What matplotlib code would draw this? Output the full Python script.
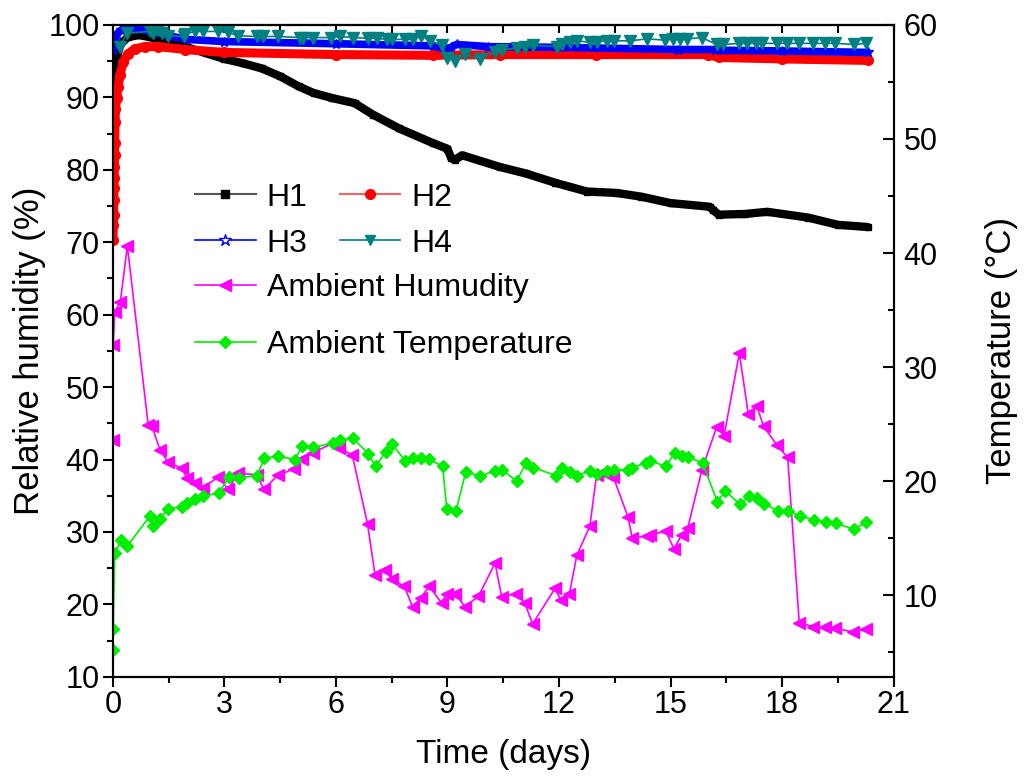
import matplotlib
matplotlib.use('Agg')
import matplotlib.pyplot as plt
from matplotlib.lines import Line2D
from matplotlib.ticker import MultipleLocator

plt.rcParams['font.family'] = ['Liberation Sans', 'DejaVu Sans']

# H1 (black), dense record read at key points
t1 = [0.0, 0.02, 0.05, 0.1, 0.2, 0.4, 0.7, 1.0, 1.5, 2.0, 2.5, 3.0, 3.5, 4.0, 4.5,
      5.0, 5.4, 5.9, 6.5, 7.0, 7.7, 8.6, 9.0, 9.1, 9.2, 9.4, 10.4, 11.1, 11.9, 12.75,
      13.55, 14.2, 15.0, 16.05, 16.15, 16.3, 17.0, 17.6, 18.7, 19.5, 20.3]
h1 = [88.0, 90.5, 93.0, 95.3, 97.3, 98.3, 98.6, 98.3, 97.7, 96.9, 96.1, 95.3, 94.7, 94.0, 92.9,
      91.5, 90.6, 89.9, 89.2, 87.6, 85.7, 83.7, 82.9, 81.6, 81.4, 82.0, 80.4, 79.5, 78.2, 77.0,
      76.8, 76.3, 75.4, 74.9, 74.4, 73.8, 73.9, 74.2, 73.4, 72.4, 72.1]

# H2 (red)
t2 = [0.0, 0.015, 0.02, 0.025, 0.03, 0.035, 0.04, 0.045, 0.05, 0.06, 0.07, 0.1, 0.14, 0.19,
      0.28, 0.41, 0.59, 0.86, 1.22, 1.94, 3.0, 6.0, 8.6, 10.4, 13.0, 16.0, 16.3, 18.0, 20.3]
h2 = [70.3, 72.4, 73.8, 75.8, 77.5, 78.9, 80.4, 82.0, 83.7, 86.6, 88.4, 89.9, 91.4, 93.1,
      94.9, 96.0, 96.7, 97.0, 97.0, 96.6, 96.2, 95.9, 95.8, 95.9, 95.9, 95.9, 95.5, 95.3, 95.1]

# H3 (blue)
t3 = [0.0, 0.03, 0.1, 0.23, 0.5, 1.0, 1.5, 2.0, 3.0, 6.0, 8.6, 8.95, 9.1, 9.25, 10.1,
      12.0, 15.2, 16.2, 16.4, 18.0, 20.3]
h3 = [96.5, 97.8, 98.7, 99.3, 99.5, 99.2, 98.5, 98.0, 97.7, 97.4, 97.1, 96.7, 96.9, 97.3, 97.0,
      96.9, 96.6, 96.6, 96.5, 96.4, 96.2]

# H4 (teal)
t4 = [0.2, 0.37, 1.0, 1.08, 1.22, 1.31, 1.49, 1.9, 1.94, 2.2, 2.43, 2.83, 3.1, 3.37, 3.87,
      4.05, 4.45, 5.03, 5.12, 5.39, 5.88, 6.1, 6.46, 6.87, 7.1, 7.36, 7.5, 7.86, 8.08, 8.3,
      8.53, 8.84, 8.98, 9.2, 9.47, 9.87, 10.28, 10.46, 10.86, 11.08, 11.29, 11.94, 12.07, 12.3,
      12.48, 12.82, 13.01, 13.28, 13.48, 13.91, 14.36, 14.85, 15.07, 15.25, 15.45, 15.84,
      16.24, 16.42, 16.85, 17.06, 17.29, 17.45, 17.86, 18.12, 18.46, 18.84, 19.16, 19.43,
      19.94, 20.25]
h4 = [97.0, 98.85, 99.1, 98.85, 99.3, 98.85, 98.5, 98.4, 98.7, 99.1, 99.1, 99.1, 99.0, 98.5, 98.4,
      98.4, 98.4, 98.25, 98.25, 98.25, 98.25, 98.4, 98.25, 98.15, 98.15, 98.0, 98.0, 98.0, 98.07, 98.5,
      97.8, 97.2, 95.4, 95.0, 95.95, 95.3, 96.3, 96.55, 96.8, 97.0, 97.2, 97.0, 97.3, 97.6,
      97.8, 97.6, 97.7, 97.8, 97.8, 97.8, 98.07, 97.9, 98.07, 98.07, 98.07, 98.25,
      97.3, 97.3, 97.45, 97.45, 97.45, 97.45, 97.45, 97.45, 97.45, 97.45, 97.45, 97.45,
      97.3, 97.45]

# ambient humidity (%)
t_amb_h = [0.0, 0.01, 0.05, 0.2, 0.39, 0.95, 1.05, 1.27, 1.49, 1.85, 2.0, 2.2, 2.43, 2.83, 3.1,
           3.37, 3.87, 4.06, 4.43, 4.87, 5.08, 5.37, 5.93, 6.09, 6.44, 6.85, 7.05, 7.32, 7.5,
           7.84, 8.06, 8.28, 8.51, 8.84, 8.98, 9.2, 9.47, 9.83, 10.28, 10.46, 10.84, 11.08,
           11.29, 11.89, 12.05, 12.28, 12.48, 12.83, 13.01, 13.33, 13.46, 13.86, 13.97, 14.36,
           14.45, 14.87, 15.09, 15.3, 15.46, 15.84, 16.24, 16.44, 16.85, 17.09, 17.32, 17.5,
           17.86, 18.15, 18.46, 18.84, 19.16, 19.43, 19.92, 20.25]
amb_h = [42.7, 55.8, 60.4, 61.7, 69.5, 44.8, 44.6, 41.3, 39.6, 38.8, 37.4, 36.7, 36.1, 37.6, 35.9,
         38.1, 37.9, 35.9, 37.8, 38.7, 40.1, 40.9, 42.3, 41.6, 40.6, 31.1, 24.1, 24.8, 23.5,
         22.5, 19.7, 20.9, 22.5, 20.2, 21.5, 21.5, 19.7, 21.1, 25.7, 21.0, 21.5, 20.2,
         17.3, 22.2, 20.6, 21.5, 26.8, 30.8, 37.9, 37.9, 37.6, 32.0, 29.1, 29.5,
         29.6, 30.1, 27.7, 29.6, 30.5, 38.5, 44.5, 43.3, 54.7, 46.3, 47.4, 44.6,
         42.0, 40.3, 17.5, 16.9, 16.9, 16.7, 16.2, 16.6]

# ambient temperature (C), right axis
t_amb_t = [0.0, 0.01, 0.05, 0.23, 0.39, 1.0, 1.07, 1.27, 1.49, 1.86, 2.0, 2.22, 2.43, 2.85, 3.13,
           3.4, 3.88, 4.07, 4.43, 4.9, 5.09, 5.39, 5.91, 6.1, 6.45, 6.87, 7.07, 7.34, 7.5,
           7.87, 8.08, 8.3, 8.51, 8.87, 8.98, 9.23, 9.49, 9.87, 10.28, 10.47, 10.86, 11.11,
           11.31, 11.91, 12.07, 12.3, 12.49, 12.83, 13.03, 13.3, 13.48, 13.86, 13.97, 14.34,
           14.45, 14.87, 15.12, 15.3, 15.48, 15.86, 16.26, 16.47, 16.87, 17.11, 17.33, 17.52,
           17.88, 18.17, 18.48, 18.86, 19.18, 19.44, 19.94, 20.26]
amb_t = [5.24, 7.08, 13.71, 14.82, 14.33, 16.96, 16.05, 16.73, 17.6, 17.75, 18.13, 18.48, 18.68, 18.97, 20.4,
         20.3, 20.5, 22.0, 22.2, 21.9, 23.1, 22.96, 23.36, 23.6, 23.8, 22.4, 21.3, 22.6, 23.3,
         21.75, 22.0, 22.0, 21.93, 21.3, 17.6, 17.4, 20.8, 20.47, 20.9, 21.0, 20.0, 21.6,
         21.2, 20.5, 21.2, 20.8, 20.5, 20.9, 20.6, 20.9, 21.0, 21.0, 21.2, 21.6,
         21.8, 21.3, 22.5, 22.2, 22.1, 21.6, 18.2, 19.15, 17.96, 18.7, 18.5, 18.04,
         17.4, 17.4, 16.96, 16.6, 16.43, 16.3, 15.8, 16.4]

fig = plt.figure(figsize=(10.26, 7.78), dpi=100)
ax = fig.add_axes([0.110, 0.130, 0.761, 0.838])
ax2 = ax.twinx()

# dense sensor records drawn as thick bands
ax.plot(t1, h1, color='black', lw=6, marker='s', ms=5, solid_capstyle='round', zorder=2)
ax.plot(t2, h2, color='red', lw=6.5, marker='o', ms=7, solid_capstyle='round', zorder=3)
ax.plot(t3, h3, color='blue', lw=5.5, marker='*', ms=7, solid_capstyle='round', zorder=4)
ax.plot(t4, h4, color='#008080', lw=1.2, marker='v', ms=8, zorder=5)
ax.plot(t_amb_h, amb_h, color='#ff00ff', lw=1.2, marker='<', ms=8, zorder=5)
ax2.plot(t_amb_t, amb_t, color='#00ee00', lw=1.2, marker='D', ms=6)

ax.set_xlim(0, 21)
ax.set_ylim(10, 100)
ax2.set_ylim(2.85, 60)

ax.xaxis.set_major_locator(MultipleLocator(3))
ax.xaxis.set_minor_locator(MultipleLocator(1.5))
ax.yaxis.set_major_locator(MultipleLocator(10))
ax.yaxis.set_minor_locator(MultipleLocator(5))
ax2.yaxis.set_major_locator(MultipleLocator(10))
ax2.yaxis.set_minor_locator(MultipleLocator(5))

ax.tick_params(which='major', direction='out', length=7.5, width=1.5, labelsize=22, pad=2)
ax.tick_params(which='minor', direction='out', length=4.5, width=1.5)
ax2.tick_params(which='major', direction='in', length=8, width=1.5, labelsize=22, pad=7)
ax2.tick_params(which='minor', direction='in', length=4.5, width=1.5)

top = ax.secondary_xaxis('top')
top.xaxis.set_major_locator(MultipleLocator(1.5))
top.tick_params(direction='in', length=6, width=1.5, labeltop=False)

for a in (ax, ax2, top):
    for s in a.spines.values():
        s.set_linewidth(1.5)

ax.set_xlabel('Time (days)', fontsize=24, labelpad=14)
ax.set_ylabel('Relative humidity (%)', fontsize=25, labelpad=2)
ax2.set_ylabel('Temperature (°C)', fontsize=25, labelpad=34)

# legend handles
hd1 = Line2D([], [], color='#555555', lw=1.5, marker='s', mfc='black', mec='black', ms=6)
hd2 = Line2D([], [], color='#ff6060', lw=1.5, marker='o', mfc='red', mec='red', ms=7)
hd3 = Line2D([], [], color='blue', lw=1.2, marker='*', mfc='white', mec='blue', ms=9)
hd4 = Line2D([], [], color='#008080', lw=1.2, marker='v', mfc='#008080', mec='#008080', ms=7)
hd5 = Line2D([], [], color='#ff00ff', lw=1.2, marker='<', mfc='#ff00ff', mec='#ff00ff', ms=8)
hd6 = Line2D([], [], color='#00ee00', lw=1.2, marker='D', mfc='#00ee00', mec='#00ee00', ms=6)

leg1 = ax.legend([hd1, hd3, hd2, hd4], ['H1', 'H3', 'H2', 'H4'], ncol=2,
                 loc='upper left', bbox_to_anchor=(0.105, 0.758), frameon=False,
                 fontsize=23, handlelength=1.9, handletextpad=0.35, columnspacing=1.0,
                 labelspacing=0.5, borderpad=0, borderaxespad=0)
ax.add_artist(leg1)
ax.legend([hd5, hd6], ['Ambient Humudity', 'Ambient Temperature'],
          loc='upper left', bbox_to_anchor=(0.105, 0.619), frameon=False,
          fontsize=23, handlelength=1.9, handletextpad=0.35,
          labelspacing=0.85, borderpad=0, borderaxespad=0)

fig.savefig('out.png', dpi=100)
